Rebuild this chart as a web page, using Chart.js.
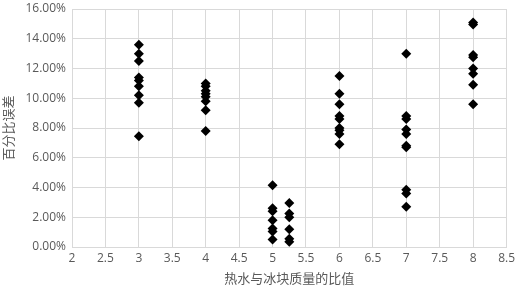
<!DOCTYPE html>
<html lang="zh">
<head>
<meta charset="UTF-8">
<title>百分比误差</title>
<script src="https://cdn.jsdelivr.net/npm/chart.js"></script>
<style>
  html, body { margin: 0; padding: 0; background: #fff; }
  #chart { display: block; }
</style>
</head>
<body>
<canvas id="chart" width="519" height="290"></canvas>
<script>
// ratio groups (x) and the percentage errors read at each one
const ratios = [3, 4, 5, 5.25, 6, 7, 8];
const errAt3 = [13.6, 13.0, 12.5, 11.4, 11.2, 10.8, 10.2, 9.7, 7.45];
const errAt4 = [11.0, 10.8, 10.5, 10.3, 10.1, 9.8, 9.2, 7.8];
const errAt5 = [4.15, 2.6, 2.4, 1.8, 1.25, 1.05, 0.5];
const errAt525 = [2.95, 2.25, 2.0, 1.2, 0.55, 0.35];
const errAt6 = [11.5, 10.3, 9.6, 8.8, 8.6, 8.0, 7.85, 7.6, 6.9];
const errAt7 = [13.0, 8.8, 8.6, 7.9, 7.6, 6.8, 6.7, 3.85, 3.6, 2.7];
const errAt8 = [15.1, 14.95, 12.9, 12.75, 12.0, 11.65, 10.9, 9.6];
const groups = [errAt3, errAt4, errAt5, errAt525, errAt6, errAt7, errAt8];

const xMin = 2, xMax = 8.5, xStep = 0.5;
const yMin = 0, yMax = 16, yStep = 2;

const points = [];
groups.forEach((vals, i) => {
  vals.forEach(v => points.push({ x: ratios[i], y: v }));
});

const gridColor = '#d9d9d9';
const textColor = '#595959';

new Chart(document.getElementById('chart'), {
  type: 'scatter',
  data: {
    datasets: [{
      data: points,
      pointStyle: 'rectRot',
      radius: 5,
      borderWidth: 0,
      backgroundColor: '#000',
      borderColor: '#000'
    }]
  },
  options: {
    responsive: false,
    animation: false,
    layout: { autoPadding: false, padding: { top: 4, right: 9, left: 0, bottom: 4 } },
    plugins: { legend: { display: false }, tooltip: { enabled: false } },
    scales: {
      x: {
        type: 'linear',
        min: xMin, max: xMax,
        ticks: {
          stepSize: xStep,
          color: textColor,
          font: { family: 'Open Sans', size: 12 },
          padding: 4,
          maxRotation: 0,
          callback: v => Number.isInteger(v) ? String(v) : v.toFixed(1)
        },
        grid: { color: gridColor, drawTicks: false },
        border: { color: gridColor },
        title: {
          display: true,
          text: '热水与冰块质量的比值',
          color: textColor,
          font: { family: 'Noto Sans CJK SC', size: 13 },
          padding: { top: 0, bottom: 0 }
        },
        afterFit: s => { s.height = 39; }
      },
      y: {
        min: yMin, max: yMax,
        ticks: {
          stepSize: yStep,
          color: textColor,
          font: { family: 'Open Sans', size: 12, lineHeight: 0.5 },
          padding: 6,
          callback: v => v.toFixed(2) + '%'
        },
        grid: { color: gridColor, drawTicks: false },
        border: { color: gridColor },
        title: {
          display: true,
          text: '百分比误差',
          color: textColor,
          font: { family: 'Noto Sans CJK SC', size: 13 },
          padding: { top: 0, bottom: 0 }
        },
        afterFit: s => { s.width = 72; }
      }
    }
  }
});
</script>
</body>
</html>
